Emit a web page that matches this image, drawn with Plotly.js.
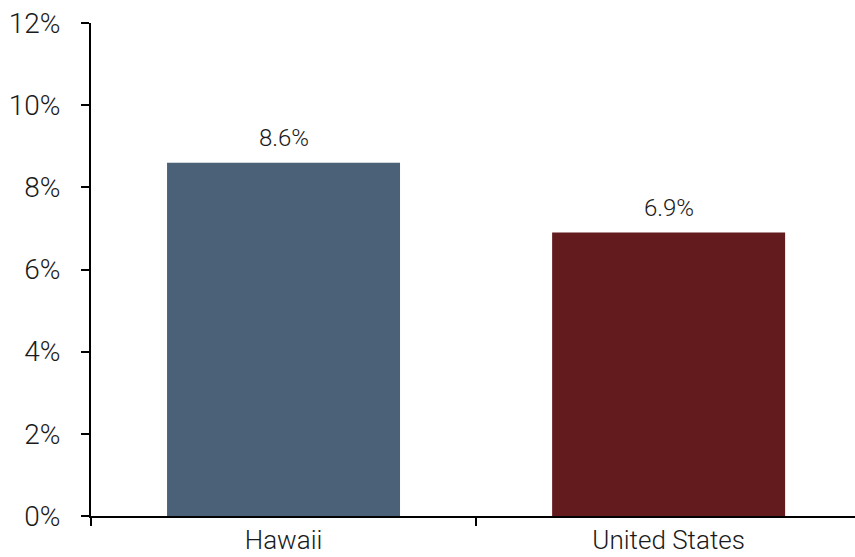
<!DOCTYPE html>
<html>
<head>
<meta charset="utf-8">
<script src="https://cdn.plot.ly/plotly-3.0.1.min.js"></script>
<style>html,body{margin:0;padding:0;background:#fff;}#chart{width:855px;height:557px;}</style>
</head>
<body>
<div id="chart"></div>
<script>
const categories = ["Hawaii", "United States"];
const values = [8.6, 6.9];
const barColors = ["#4A6178", "#641B1E"];
const yTickVals = [0, 2, 4, 6, 8, 10, 12];
const yTickText = ["0%", "2%", "4%", "6%", "8%", "10%", "12%"];

const fontFam = "Roboto, 'Liberation Sans', Arial, sans-serif";

const trace = {
  type: "bar",
  x: categories,
  y: values,
  width: 0.605,
  marker: { color: barColors, line: { width: 0 } },
  hoverinfo: "none"
};

const annotations = categories.map((c, i) => ({
  x: c, y: values[i], xref: "x", yref: "y",
  text: values[i].toFixed(1) + "%",
  showarrow: false, yanchor: "bottom", yshift: 9,
  font: { family: fontFam, size: 24, color: "#1a1a1a", weight: 300 }
}));

const layout = {
  width: 855, height: 557,
  margin: { l: 91, r: 0, t: 23, b: 41, pad: 0 },
  paper_bgcolor: "#fff", plot_bgcolor: "#fff",
  showlegend: false,
  font: { family: fontFam, color: "#1a1a1a", weight: 300 },
  xaxis: {
    type: "category",
    range: [-0.5, 1.484],
    showline: true, linecolor: "#000", linewidth: 2,
    ticks: "outside", tickson: "boundaries", ticklen: 8, tickwidth: 2, tickcolor: "#000",
    ticklabelstandoff: 0,
    showgrid: false, zeroline: false,
    tickfont: { family: fontFam, size: 26, color: "#1a1a1a", weight: 300 },
    fixedrange: true
  },
  yaxis: {
    range: [0, 12],
    tickvals: yTickVals, ticktext: yTickText,
    showline: true, linecolor: "#000", linewidth: 2,
    ticks: "outside", ticklen: 8, tickwidth: 2, tickcolor: "#000",
    ticklabelstandoff: 15,
    showgrid: false, zeroline: false,
    tickfont: { family: fontFam, size: 28, color: "#1a1a1a", weight: 300 },
    fixedrange: true
  },
  annotations: annotations
};

Plotly.newPlot("chart", [trace], layout, { displayModeBar: false, staticPlot: true });
</script>
</body>
</html>
